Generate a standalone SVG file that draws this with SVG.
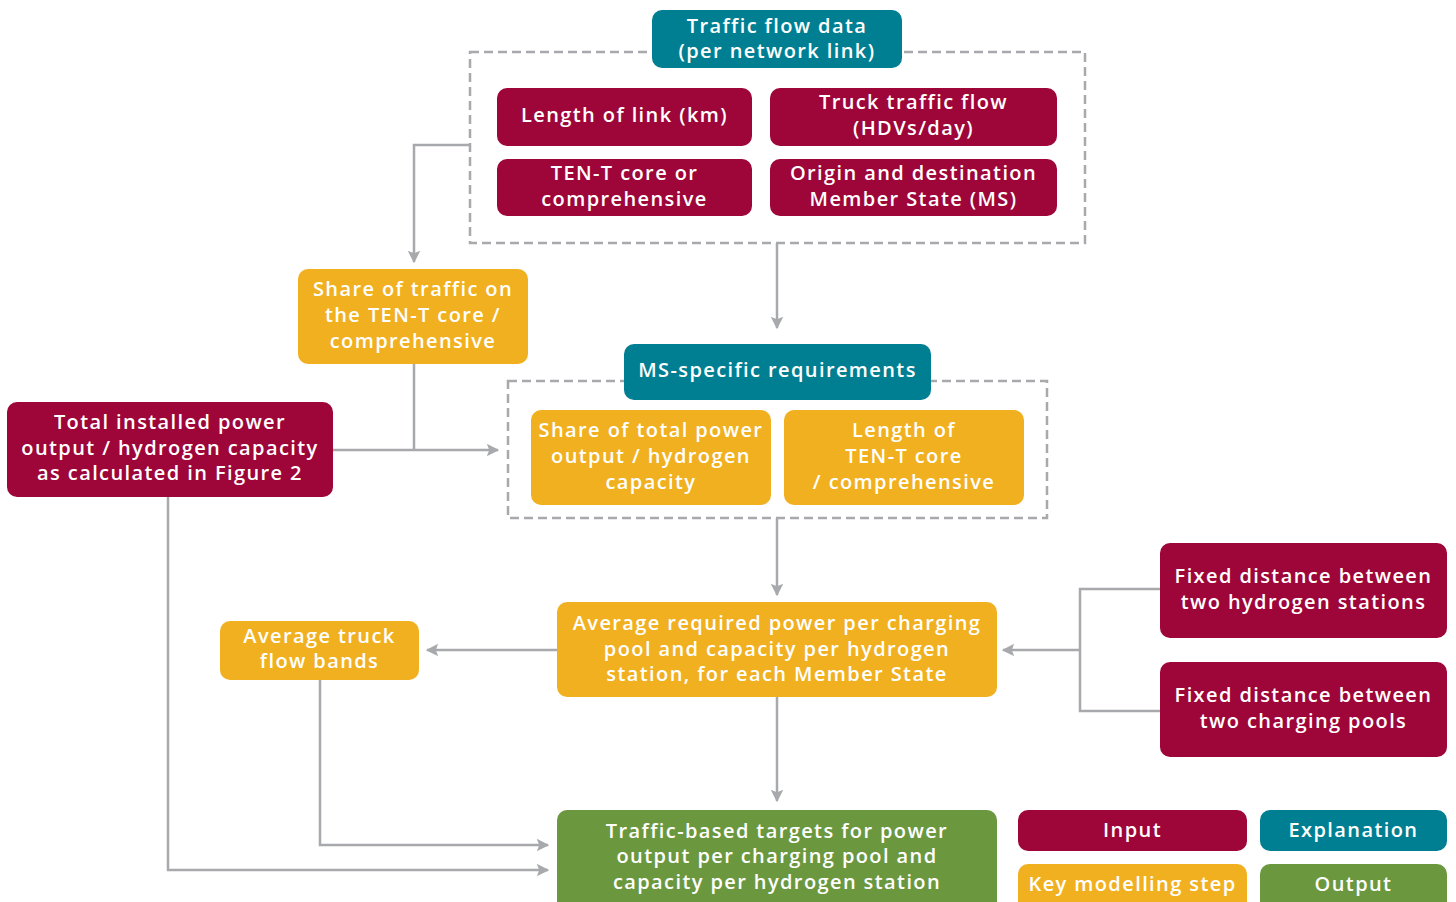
<svg xmlns="http://www.w3.org/2000/svg" width="1456" height="902" viewBox="0 0 1456 902">
<style>
.t{font-family:"Open Sans","Liberation Sans",sans-serif;font-size:20px;font-weight:600;fill:#fff;text-anchor:middle;letter-spacing:1.4px}
.red{fill:#9e0539}
.teal{fill:#007f92}
.org{fill:#f1b01f}
.grn{fill:#6b983f}
.dash{fill:none;stroke:#a7a9ac;stroke-width:2.5;stroke-dasharray:9,5}
.c{fill:none;stroke:#a7a9ac;stroke-width:2.5}
</style>
<defs>
<marker id="ah" viewBox="0 0 10 10" refX="9" refY="5" markerWidth="5" markerHeight="5" orient="auto" markerUnits="strokeWidth">
<path d="M0,0 L10,5 L0,10 L2,5 Z" fill="#a7a9ac"/>
</marker>
</defs>
<rect class="dash" x="470" y="52" width="615" height="191"/>
<rect class="dash" x="508" y="381" width="539" height="137"/>
<g id="connectors">
<path class="c" d="M470,145 H414 V262" marker-end="url(#ah)"/>
<path class="c" d="M777,243 V328" marker-end="url(#ah)"/>
<path class="c" d="M414,364 V450"/>
<path class="c" d="M333,450 H498" marker-end="url(#ah)"/>
<path class="c" d="M777,518 V595" marker-end="url(#ah)"/>
<path class="c" d="M557,650 H427" marker-end="url(#ah)"/>
<path class="c" d="M1160,589 H1080 V711 H1160"/>
<path class="c" d="M1080,650 H1003" marker-end="url(#ah)"/>
<path class="c" d="M777,697 V801" marker-end="url(#ah)"/>
<path class="c" d="M320,680 V845 H548" marker-end="url(#ah)"/>
<path class="c" d="M168,497 V870 H548" marker-end="url(#ah)"/>
</g>
<g id="traffic-flow-data"><rect class="teal" x="652" y="10" width="250" height="58" rx="10"/><text class="t" x="777" y="33">Traffic flow data</text><text class="t" x="777" y="58">(per network link)</text></g>
<g id="length-of-link"><rect class="red" x="497" y="88" width="255" height="58" rx="10"/><text class="t" x="624.5" y="122">Length of link (km)</text></g>
<g id="truck-traffic-flow"><rect class="red" x="770" y="88" width="287" height="58" rx="10"/><text class="t" x="913.5" y="109">Truck traffic flow</text><text class="t" x="913.5" y="135">(HDVs/day)</text></g>
<g id="ten-t-core"><rect class="red" x="497" y="159" width="255" height="57" rx="10"/><text class="t" x="624.5" y="180">TEN-T core or</text><text class="t" x="624.5" y="206">comprehensive</text></g>
<g id="origin-destination"><rect class="red" x="770" y="159" width="287" height="57" rx="10"/><text class="t" x="913.5" y="180">Origin and destination</text><text class="t" x="913.5" y="206">Member State (MS)</text></g>
<g id="share-of-traffic"><rect class="org" x="298" y="269" width="230" height="95" rx="10"/><text class="t" x="413" y="296">Share of traffic on</text><text class="t" x="413" y="322">the TEN-T core /</text><text class="t" x="413" y="348">comprehensive</text></g>
<g id="ms-specific"><rect class="teal" x="624" y="344" width="307" height="56" rx="10"/><text class="t" x="777.5" y="377">MS-specific requirements</text></g>
<g id="total-installed"><rect class="red" x="7" y="402" width="326" height="95" rx="10"/><text class="t" x="170" y="429">Total installed power</text><text class="t" x="170" y="455">output / hydrogen capacity</text><text class="t" x="170" y="480">as calculated in Figure 2</text></g>
<g id="share-of-total-power"><rect class="org" x="531" y="410" width="240" height="95" rx="10"/><text class="t" x="651" y="437">Share of total power</text><text class="t" x="651" y="463">output / hydrogen</text><text class="t" x="651" y="489">capacity</text></g>
<g id="length-ten-t"><rect class="org" x="784" y="410" width="240" height="95" rx="10"/><text class="t" x="904" y="437">Length of</text><text class="t" x="904" y="463">TEN-T core</text><text class="t" x="904" y="489">/ comprehensive</text></g>
<g id="avg-required"><rect class="org" x="557" y="602" width="440" height="95" rx="10"/><text class="t" x="777" y="630">Average required power per charging</text><text class="t" x="777" y="656">pool and capacity per hydrogen</text><text class="t" x="777" y="681">station, for each Member State</text></g>
<g id="avg-truck-flow"><rect class="org" x="220" y="621" width="199" height="59" rx="10"/><text class="t" x="319.5" y="643">Average truck</text><text class="t" x="319.5" y="668">flow bands</text></g>
<g id="fixed-hydrogen"><rect class="red" x="1160" y="543" width="287" height="95" rx="10"/><text class="t" x="1303.5" y="583">Fixed distance between</text><text class="t" x="1303.5" y="609">two hydrogen stations</text></g>
<g id="fixed-charging"><rect class="red" x="1160" y="662" width="287" height="95" rx="10"/><text class="t" x="1303.5" y="702">Fixed distance between</text><text class="t" x="1303.5" y="728">two charging pools</text></g>
<g id="traffic-based-targets"><rect class="grn" x="557" y="810" width="440" height="102" rx="10"/><text class="t" x="777" y="838">Traffic-based targets for power</text><text class="t" x="777" y="863">output per charging pool and</text><text class="t" x="777" y="889">capacity per hydrogen station</text></g>
<g id="legend-input"><rect class="red" x="1018" y="810" width="229" height="41" rx="10"/><text class="t" x="1132.5" y="837">Input</text></g>
<g id="legend-explanation"><rect class="teal" x="1260" y="810" width="187" height="41" rx="10"/><text class="t" x="1353.5" y="837">Explanation</text></g>
<g id="legend-key"><rect class="org" x="1018" y="864" width="229" height="48" rx="10"/><text class="t" x="1132.5" y="891">Key modelling step</text></g>
<g id="legend-output"><rect class="grn" x="1260" y="864" width="187" height="48" rx="10"/><text class="t" x="1353.5" y="891">Output</text></g>
</svg>
